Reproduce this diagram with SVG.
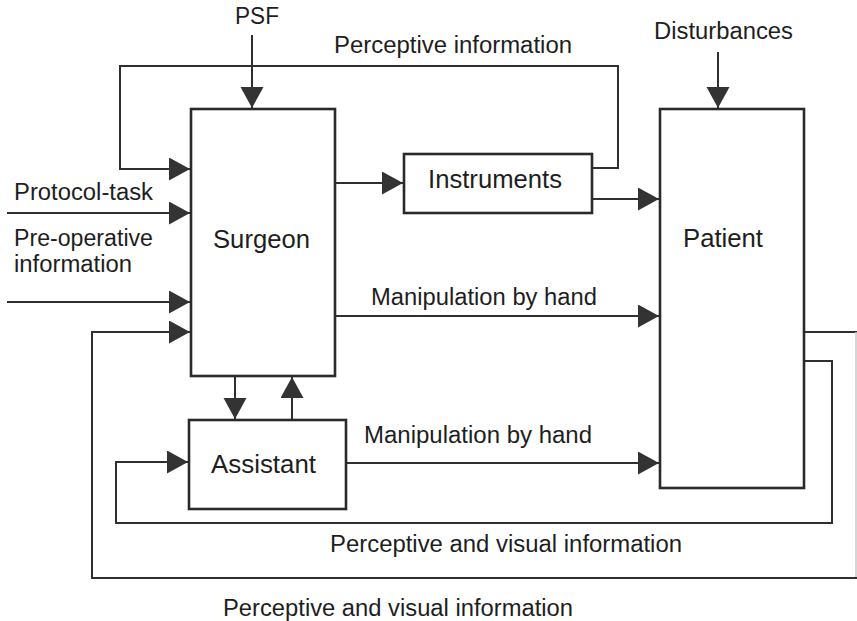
<svg xmlns="http://www.w3.org/2000/svg" width="857" height="621" viewBox="0 0 857 621">
<style>
.box{fill:none;stroke:#2a2a2a;stroke-width:2.6}
.ln{fill:none;stroke:#2f2f2f;stroke-width:2}
.faint{fill:none;stroke:#c8c8c8;stroke-width:1.5}
text{font-family:"Liberation Sans",Arial,sans-serif;font-size:23px;fill:#1e1e1e}
.big{font-size:25.5px}
</style>
<defs>
<marker id="ah" markerUnits="userSpaceOnUse" markerWidth="22" markerHeight="24" refX="21" refY="11.5" orient="auto">
<path d="M0,0 L21,11.5 L0,23 Z" fill="#333"/>
</marker>
</defs>
<rect width="857" height="621" fill="#fff"/>
<g id="connectors">
<path class="ln" d="M252,35 V108" marker-end="url(#ah)"/>
<path class="ln" d="M718,52 V108" marker-end="url(#ah)"/>
<path class="ln" d="M592,168 H618 V66 H120 V169 H190" marker-end="url(#ah)"/>
<path class="ln" d="M335,183 H403" marker-end="url(#ah)"/>
<path class="ln" d="M592,199 H659" marker-end="url(#ah)"/>
<path class="ln" d="M7,213 H190" marker-end="url(#ah)"/>
<path class="ln" d="M7,302 H190" marker-end="url(#ah)"/>
<path class="ln" d="M335,316 H659" marker-end="url(#ah)"/>
<path class="ln" d="M804,332 H857"/>
<path class="faint" d="M856,332 V578"/>
<path class="ln" d="M857,578 H92 V332 H190" marker-end="url(#ah)"/>
<path class="ln" d="M235,376 V419" marker-end="url(#ah)"/>
<path class="ln" d="M292,420 V377" marker-end="url(#ah)"/>
<path class="ln" d="M346,463 H659" marker-end="url(#ah)"/>
<path class="ln" d="M804,361 H832 V523 H116 V462 H188" marker-end="url(#ah)"/>
</g>
<g id="surgeon">
<rect class="box" x="191" y="109" width="144" height="267"/>
<text class="big" x="213" y="248" textLength="97" lengthAdjust="spacingAndGlyphs">Surgeon</text>
</g>
<g id="instruments">
<rect class="box" x="404" y="154" width="188" height="59"/>
<text class="big" x="428" y="188" textLength="134" lengthAdjust="spacingAndGlyphs">Instruments</text>
</g>
<g id="patient">
<rect class="box" x="660" y="109" width="144" height="379"/>
<text class="big" x="683" y="247" textLength="80" lengthAdjust="spacingAndGlyphs">Patient</text>
</g>
<g id="assistant">
<rect class="box" x="189" y="420" width="157" height="89"/>
<text class="big" x="211" y="473" textLength="105" lengthAdjust="spacingAndGlyphs">Assistant</text>
</g>
<g id="labels">
<text x="235" y="24" textLength="44" lengthAdjust="spacingAndGlyphs">PSF</text>
<text x="334" y="53" textLength="238" lengthAdjust="spacingAndGlyphs">Perceptive information</text>
<text x="654" y="39" textLength="139" lengthAdjust="spacingAndGlyphs">Disturbances</text>
<text x="14" y="200" textLength="139" lengthAdjust="spacingAndGlyphs">Protocol-task</text>
<text x="14" y="246" textLength="139" lengthAdjust="spacingAndGlyphs">Pre-operative</text>
<text x="14" y="272" textLength="118" lengthAdjust="spacingAndGlyphs">information</text>
<text x="371" y="305" textLength="226" lengthAdjust="spacingAndGlyphs">Manipulation by hand</text>
<text x="364" y="443" textLength="228" lengthAdjust="spacingAndGlyphs">Manipulation by hand</text>
<text x="330" y="552" textLength="352" lengthAdjust="spacingAndGlyphs">Perceptive and visual information</text>
<text x="223" y="616" textLength="350" lengthAdjust="spacingAndGlyphs">Perceptive and visual information</text>
</g>
</svg>
